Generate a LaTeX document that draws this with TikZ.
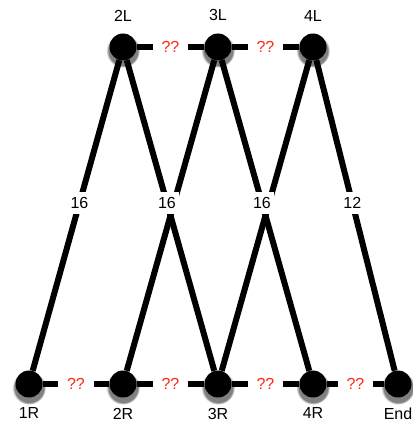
\documentclass[tikz,border=0pt]{standalone}
\usepackage{fontspec}
\setmainfont{Liberation Sans}
\usetikzlibrary{positioning,shadows}
\definecolor{askred}{RGB}{250,40,20}

\tikzset{
  bank/.style={circle, fill=black, minimum size=27pt, inner sep=0pt,
    circular drop shadow={shadow xshift=0pt, shadow yshift=-3pt, shadow scale=1.25}},
  lbl/.style={font=\fontsize{16}{16}\selectfont, inner sep=0pt},
  trip/.style={line width=6pt},
  cost/.style={fill=white, font=\fontsize{16}{16}\selectfont, inner xsep=3pt, inner ysep=5pt, pos=.54},
  ask/.style={fill=white, text=askred, font=\fontsize{16}{16}\selectfont, inner xsep=9pt, inner ysep=3pt}
}

\begin{document}
\begin{tikzpicture}[x=1pt,y=1pt]
  \useasboundingbox (0,0) rectangle (413,424);

  % top bank
  \node[bank, label={[lbl, label distance=12pt]above:2L}] (n2L) at (123,377) {};
  \node[bank, label={[lbl, label distance=12pt]above:3L}] (n3L) at (218,377) {};
  \node[bank, label={[lbl, label distance=12pt]above:4L}] (n4L) at (313,377) {};

  % bottom bank
  \node[bank, label={[lbl, label distance=10pt]below:1R}] (n1R) at (29,40) {};
  \node[bank, label={[lbl, label distance=10pt]below:2R}] (n2R) at (123,40) {};
  \node[bank, label={[lbl, label distance=10pt]below:3R}] (n3R) at (218,40) {};
  \node[bank, label={[lbl, label distance=10pt]below:4R}] (n4R) at (313,40) {};
  \node[bank, label={[lbl, label distance=10pt]below:End}] (nEnd) at (398,40) {};

  % crossings
  \draw[trip] (n1R) -- node[cost]{16} (n2L);
  \draw[trip] (n2R) -- (n3L);
  \draw[trip] (n3R) -- node[cost]{16} (n2L);
  \draw[trip] (n3R) -- (n4L);
  \draw[trip] (n4R) -- node[cost]{16} (n3L);
  \draw[trip] (nEnd) -- node[cost]{12} (n4L);

  % unknown legs
  \draw[trip] (n2L) -- node[ask]{??} (n3L);
  \draw[trip] (n3L) -- node[ask]{??} (n4L);
  \draw[trip] (n1R) -- node[ask]{??} (n2R);
  \draw[trip] (n2R) -- node[ask]{??} (n3R);
  \draw[trip] (n3R) -- node[ask]{??} (n4R);
  \draw[trip] (n4R) -- node[ask]{??} (nEnd);
\end{tikzpicture}
\end{document}
